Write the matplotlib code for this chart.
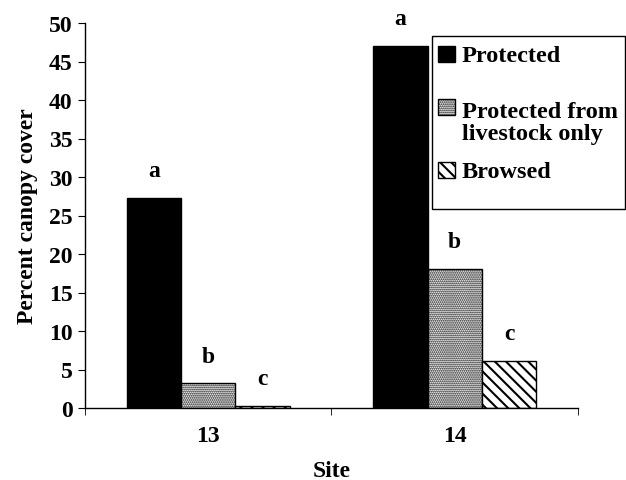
import matplotlib
matplotlib.use("Agg")
import matplotlib.pyplot as plt
from matplotlib.patches import Rectangle
import numpy as np

sites = ["13", "14"]
series = ["Protected", "Protected from\nlivestock only", "Browsed"]
protected = [27.3, 47.0]
livestock_only = [3.2, 18.1]
browsed = [0.3, 6.1]
letters = [["a", "a"], ["b", "b"], ["c", "c"]]
yticks = [0, 5, 10, 15, 20, 25, 30, 35, 40, 45, 50]

plt.rcParams['font.family'] = ['Liberation Serif', 'DejaVu Serif']
plt.rcParams['font.weight'] = 'bold'

FS = 17
LFS = 17.5
W, H = 626, 481
fig = plt.figure(figsize=(W / 100, H / 100), dpi=100)
ax = fig.add_axes([85 / W, 1 - 409 / H, (578 - 85) / W, (409 - 24) / H])

x = np.arange(len(sites))
w = 0.22
styles = [
    dict(facecolor="black", hatch=None, hlw=1.0),
    dict(facecolor="white", hatch="........", hlw=0.9),
    dict(facecolor="white", hatch="\\\\\\", hlw=1.5),
]
data = [protected, livestock_only, browsed]
for i, (vals, st) in enumerate(zip(data, styles)):
    with plt.rc_context({'hatch.linewidth': st["hlw"]}):
        bars = ax.bar(x + (i - 1) * w, vals, w, facecolor=st["facecolor"],
                      edgecolor="black", hatch=st["hatch"], linewidth=1.0,
                      label=series[i])
    for j, b in enumerate(bars):
        ax.annotate(letters[i][j], (b.get_x() + b.get_width() / 2, b.get_height()),
                    xytext=(0, 12), textcoords="offset points", ha="center",
                    va="bottom", fontsize=FS, fontweight="bold")

ax.set_xlim(-0.5, 1.5)
ax.set_ylim(0, 50)
ax.set_yticks(yticks)
ax.set_xticks(x)
ax.set_xticklabels(sites)
ax.set_xticks([-0.5, 0.5, 1.5], minor=True)
ax.tick_params(axis="x", which="major", length=0, pad=12, labelsize=FS)
ax.tick_params(axis="x", which="minor", length=5, direction="out")
ax.tick_params(axis="y", length=5, direction="out", labelsize=FS, pad=4)
for s in ["top", "right"]:
    ax.spines[s].set_visible(False)
for s in ["left", "bottom"]:
    ax.spines[s].set_linewidth(1.0)
ax.set_ylabel("Percent canopy cover", fontsize=FS, fontweight="bold", labelpad=8)
ax.set_xlabel("Site", fontsize=FS, fontweight="bold", labelpad=10)

# legend drawn by hand to match the reference spacing
def fx(px):
    return px / W

def fy(py):
    return 1 - py / H

frame = Rectangle((fx(432), fy(210)), fx(625) - fx(432), fy(37) - fy(210),
                  transform=fig.transFigure, facecolor="white", edgecolor="black",
                  linewidth=1.0, zorder=5)
fig.add_artist(frame)
handle_tops = [47, 100, 163]
text_tops = [46, 102, 162]
for st, lab, ht, tt in zip(styles, series, handle_tops, text_tops):
    with plt.rc_context({'hatch.linewidth': st["hlw"]}):
        fig.add_artist(Rectangle((fx(438), fy(ht + 16)), fx(455) - fx(438), fy(ht) - fy(ht + 16),
                                 transform=fig.transFigure, facecolor=st["facecolor"],
                                 edgecolor="black", hatch=st["hatch"], linewidth=1.0, zorder=6))
    fig.text(fx(462), fy(tt), lab, transform=fig.transFigure, ha="left", va="top",
             fontsize=LFS, fontweight="bold", linespacing=1.08, zorder=7)

fig.savefig("out.png", dpi=100)
